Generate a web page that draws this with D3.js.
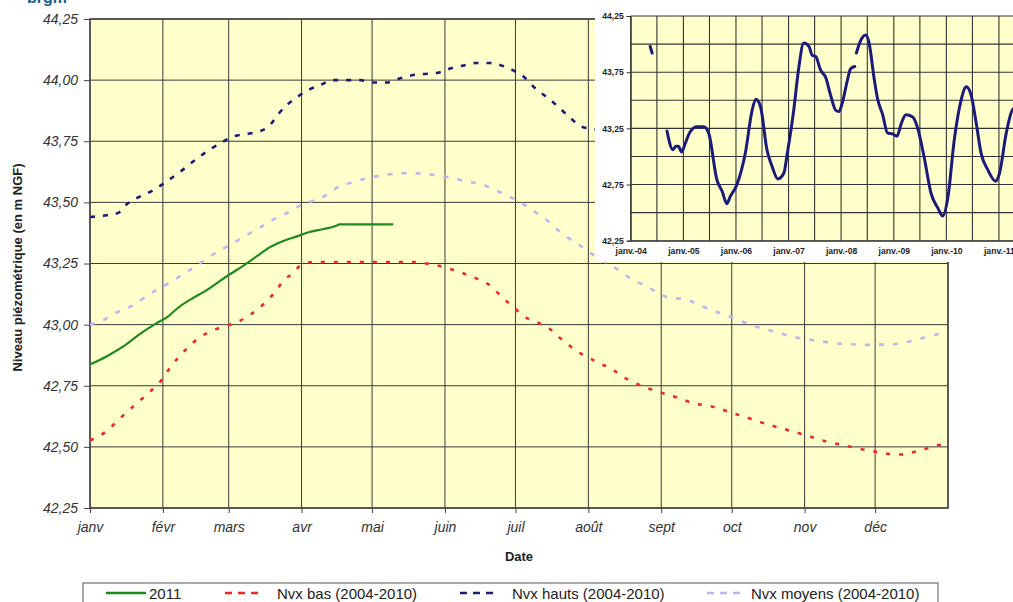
<!DOCTYPE html>
<html>
<head>
<meta charset="utf-8">
<script src="https://cdn.jsdelivr.net/npm/d3@7"></script>
<style>
  body { margin: 0; background: #fff; }
  text { font-family: Arial, "Liberation Sans", sans-serif; }
</style>
</head>
<body>
<svg id="chart" width="1013" height="602"></svg>
<script>
// Month labels of the main chart (one per month start)
const moisLabels = ["janv", "févr", "mars", "avr", "mai", "juin", "juil", "août", "sept", "oct", "nov", "déc"];
const yTicks = [42.25, 42.5, 42.75, 43.0, 43.25, 43.5, 43.75, 44.0, 44.25];

// Series, [month-day in 2011, level in m NGF]
const niveaux2011 = [
  ["01-01", 42.837], ["01-08", 42.87], ["01-15", 42.91], ["01-22", 42.96], ["01-29", 43.004],
  ["02-03", 43.032], ["02-08", 43.073], ["02-14", 43.11], ["02-20", 43.143], ["02-25", 43.177],
  ["03-02", 43.209], ["03-07", 43.239], ["03-13", 43.28], ["03-18", 43.314], ["03-24", 43.341],
  ["03-30", 43.361], ["04-04", 43.378], ["04-10", 43.39], ["04-16", 43.405], ["04-17", 43.41],
  ["05-10", 43.41]
];

const nvxBas = [
  ["01-01", 42.527], ["01-08", 42.564], ["01-12", 42.60], ["01-17", 42.645], ["01-22", 42.687],
  ["01-27", 42.73], ["02-01", 42.78], ["02-04", 42.823], ["02-08", 42.87], ["02-12", 42.91],
  ["02-17", 42.95], ["02-22", 42.975], ["02-27", 42.993], ["03-04", 43.007], ["03-09", 43.034],
  ["03-13", 43.06], ["03-17", 43.095], ["03-21", 43.136], ["03-24", 43.177], ["03-28", 43.208],
  ["04-01", 43.245], ["04-06", 43.256], ["04-12", 43.256], ["05-19", 43.256], ["05-24", 43.25],
  ["05-30", 43.239], ["06-04", 43.225], ["06-09", 43.209], ["06-14", 43.19], ["06-19", 43.168],
  ["06-23", 43.134], ["06-27", 43.098], ["07-01", 43.064], ["07-05", 43.032], ["07-10", 43.01],
  ["07-15", 42.987], ["07-19", 42.953], ["07-23", 42.922], ["07-27", 42.891], ["08-01", 42.866],
  ["08-06", 42.84], ["08-11", 42.82], ["08-15", 42.79], ["08-20", 42.766], ["08-25", 42.744],
  ["08-30", 42.728], ["09-04", 42.713], ["09-09", 42.698], ["09-14", 42.68], ["09-20", 42.67],
  ["09-25", 42.66], ["09-30", 42.642], ["10-06", 42.625], ["10-12", 42.605], ["10-18", 42.587],
  ["10-24", 42.571], ["10-30", 42.555], ["11-05", 42.537], ["11-11", 42.52], ["11-18", 42.506],
  ["11-24", 42.493], ["11-30", 42.482], ["12-06", 42.472], ["12-12", 42.469], ["12-18", 42.48],
  ["12-24", 42.496], ["12-31", 42.516]
];

const nvxHauts = [
  ["01-01", 43.44], ["01-08", 43.447], ["01-13", 43.457], ["01-17", 43.495], ["01-21", 43.518],
  ["01-27", 43.545], ["02-01", 43.575], ["02-09", 43.63], ["02-17", 43.69], ["02-26", 43.745],
  ["03-03", 43.77], ["03-09", 43.78], ["03-14", 43.79], ["03-18", 43.81], ["03-22", 43.86],
  ["03-26", 43.90], ["03-30", 43.93], ["04-04", 43.96], ["04-09", 43.98], ["04-14", 44.00],
  ["04-20", 44.00], ["04-26", 44.00], ["05-01", 43.99], ["05-07", 43.99], ["05-12", 44.005],
  ["05-18", 44.02], ["05-23", 44.025], ["05-29", 44.03], ["06-04", 44.05], ["06-09", 44.06],
  ["06-14", 44.07], ["06-20", 44.07], ["06-25", 44.06], ["06-30", 44.04], ["07-05", 44.01],
  ["07-09", 43.97], ["07-13", 43.94], ["07-17", 43.91], ["07-21", 43.875], ["07-25", 43.84],
  ["07-29", 43.81], ["08-03", 43.80], ["08-09", 43.79]
];

const nvxMoyens = [
  ["01-01", 43.00], ["01-07", 43.02], ["01-12", 43.048], ["01-19", 43.078], ["01-25", 43.116],
  ["01-30", 43.146], ["02-05", 43.177], ["02-10", 43.21], ["02-15", 43.238], ["02-20", 43.273],
  ["02-26", 43.307], ["03-03", 43.334], ["03-09", 43.368], ["03-14", 43.395], ["03-20", 43.43],
  ["03-26", 43.457], ["04-01", 43.49], ["04-07", 43.51], ["04-13", 43.538], ["04-17", 43.566],
  ["04-23", 43.582], ["04-29", 43.60], ["05-05", 43.61], ["05-11", 43.617], ["05-17", 43.62],
  ["05-23", 43.617], ["05-29", 43.61], ["06-04", 43.60], ["06-10", 43.586], ["06-17", 43.573],
  ["06-22", 43.552], ["06-28", 43.525], ["07-04", 43.495], ["07-09", 43.463], ["07-14", 43.43],
  ["07-18", 43.395], ["07-23", 43.358], ["07-29", 43.32], ["08-03", 43.286], ["08-09", 43.252],
  ["08-14", 43.222], ["08-19", 43.188], ["08-25", 43.16], ["08-30", 43.134], ["09-05", 43.109],
  ["09-10", 43.106], ["09-16", 43.086], ["09-22", 43.06], ["09-28", 43.04], ["10-04", 43.018],
  ["10-10", 42.996], ["10-16", 42.98], ["10-22", 42.963], ["10-28", 42.948], ["11-03", 42.939],
  ["11-09", 42.93], ["11-15", 42.923], ["11-21", 42.92], ["11-27", 42.917], ["12-03", 42.918],
  ["12-09", 42.92], ["12-15", 42.93], ["12-21", 42.944], ["12-28", 42.962]
];

// Inset: full record 2004-2011 (null = gap in measurements)
const chroniqueDates = [
  "2004-05-15", "2004-05-29", "2004-07-01", "2004-09-09", "2004-10-20", "2004-11-10", "2004-11-27",
  "2004-12-20", "2005-01-15", "2005-02-17", "2005-04-05", "2005-05-22", "2005-06-25", "2005-08-22",
  "2005-09-27", "2005-10-30", "2005-11-21", "2006-01-08", "2006-03-07", "2006-04-23", "2006-05-19",
  "2006-06-21", "2006-08-04", "2006-09-09", "2006-10-19", "2006-11-29", "2006-12-24", "2007-02-06",
  "2007-03-11", "2007-04-17", "2007-05-23", "2007-06-14", "2007-07-09", "2007-08-11", "2007-09-17",
  "2007-10-19", "2007-11-25", "2007-12-17", "2008-01-08", "2008-02-14", "2008-03-07", "2008-04-05",
  "2008-04-10", "2008-04-16", "2008-05-12", "2008-06-21", "2008-07-13", "2008-08-19", "2008-09-09",
  "2008-10-16", "2008-11-18", "2008-12-24", "2009-01-23", "2009-02-21", "2009-03-26", "2009-05-12",
  "2009-06-14", "2009-07-31", "2009-09-17", "2009-11-03", "2009-12-06", "2010-01-12", "2010-02-25",
  "2010-04-13", "2010-05-19", "2010-06-21", "2010-07-28", "2010-08-30", "2010-10-16", "2010-12-09",
  "2011-01-05", "2011-02-21", "2011-04-16", "2011-05-10"
];
const chroniqueNiveaux = [
  43.98, 43.92, null, 43.226, 43.06, 43.09, 43.09,
  43.04, 43.12, 43.22, 43.265, 43.265, 43.21, 42.79,
  42.69, 42.58, 42.64, 42.75, 43.03, 43.41, 43.51,
  43.44, 43.06, 42.91, 42.80, 42.85, 43.03, 43.41,
  43.77, 44.01, 43.98, 43.90, 43.89, 43.77, 43.70,
  43.55, 43.41, 43.40, 43.47, 43.68, 43.78, 43.80,
  null, 43.92, 44.02, 44.08, 44.01, 43.68, 43.52,
  43.37, 43.21, 43.20, 43.18, 43.29, 43.37, 43.35,
  43.26, 42.99, 42.67, 42.54, 42.47, 42.64, 43.15,
  43.50, 43.62, 43.55, 43.29, 43.03, 42.88, 42.78,
  42.85, 43.21, 43.43, 43.41
];
const insetYTicks = [42.25, 42.75, 43.25, 43.75, 44.25];
const insetGridY = [42.25, 42.5, 42.75, 43.0, 43.25, 43.5, 43.75, 44.0, 44.25];

const svg = d3.select("#chart");
const parseDay = d3.timeParse("%Y-%m-%d");
const toDate = md => parseDay("2011-" + md);
const frNum = d => d.toFixed(2).replace(".", ",");

const plot = { left: 90, right: 948, top: 19, bottom: 508 };

const x = d3.scaleTime()
  .domain([new Date(2011, 0, 1), new Date(2012, 0, 1)])
  .range([plot.left, plot.right]);
const y = d3.scaleLinear()
  .domain([42.25, 44.25])
  .range([plot.bottom, plot.top]);

// logo fragment at the top (cut off in the original)
svg.append("text")
  .attr("x", 27).attr("y", 3)
  .attr("font-size", 16).attr("font-weight", "bold")
  .attr("fill", "#1f5c86")
  .text("brgm");

// plot background
svg.append("rect")
  .attr("x", plot.left).attr("y", plot.top)
  .attr("width", plot.right - plot.left).attr("height", plot.bottom - plot.top)
  .attr("fill", "#ffffcc");

// grid
const grid = svg.append("g").attr("stroke", "#3a3a3a").attr("stroke-width", 1);
grid.selectAll(".gy").data(yTicks).join("line")
  .attr("x1", plot.left).attr("x2", plot.right)
  .attr("y1", d => y(d)).attr("y2", d => y(d));
const monthStarts = d3.timeMonth.range(new Date(2011, 0, 1), new Date(2012, 0, 2));
grid.selectAll(".gx").data(monthStarts).join("line")
  .attr("y1", plot.top).attr("y2", plot.bottom)
  .attr("x1", d => x(d)).attr("x2", d => x(d));

svg.append("rect")
  .attr("x", plot.left).attr("y", plot.top)
  .attr("width", plot.right - plot.left).attr("height", plot.bottom - plot.top)
  .attr("fill", "none").attr("stroke", "#444").attr("stroke-width", 1.5);

// axes
const yAxis = svg.append("g")
  .attr("transform", `translate(${plot.left},0)`)
  .call(d3.axisLeft(y).tickValues(yTicks).tickFormat(frNum).tickSize(6).tickPadding(6));
const xAxis = svg.append("g")
  .attr("transform", `translate(0,${plot.bottom})`)
  .call(d3.axisBottom(x).tickValues(monthStarts.slice(0, 12)).tickSize(5).tickPadding(9)
    .tickFormat((d, i) => moisLabels[i]));
[yAxis, xAxis].forEach(ax => {
  ax.select(".domain").remove();
  ax.selectAll(".tick line").attr("stroke", "#444");
  ax.selectAll("text").attr("font-size", 14).attr("font-style", "italic").attr("fill", "#333")
    .attr("font-family", "Arial, 'Liberation Sans', sans-serif");
});

svg.append("text")
  .attr("x", (plot.left + plot.right) / 2).attr("y", 561)
  .attr("text-anchor", "middle").attr("font-size", 13).attr("font-weight", "bold").attr("fill", "#222")
  .text("Date");
svg.append("text")
  .attr("transform", `translate(22,${(plot.top + plot.bottom) / 2 + 4}) rotate(-90)`)
  .attr("text-anchor", "middle").attr("font-size", 13).attr("font-weight", "bold").attr("fill", "#222")
  .text("Niveau piézométrique (en m NGF)");

// series
const line = d3.line()
  .x(d => x(toDate(d[0])))
  .y(d => y(d[1]))
  .curve(d3.curveMonotoneX);

const series = [
  { data: nvxMoyens, color: "#c5b3f0", dash: "5,9", width: 2.6, label: "Nvx moyens (2004-2010)" },
  { data: nvxBas, color: "#f02828", dash: "4,9", width: 2.6, label: "Nvx bas (2004-2010)" },
  { data: nvxHauts, color: "#1c1c78", dash: "5,8", width: 2.6, label: "Nvx hauts (2004-2010)" },
  { data: niveaux2011, color: "#1e8a1e", dash: null, width: 2.2, label: "2011" }
];
series.forEach(s => {
  svg.append("path")
    .datum(s.data)
    .attr("fill", "none")
    .attr("stroke", s.color)
    .attr("stroke-width", s.width)
    .attr("stroke-dasharray", s.dash)
    .attr("d", line);
});

// ---------- inset chart (full record) ----------
svg.append("rect")
  .attr("x", 595).attr("y", 0).attr("width", 418).attr("height", 262)
  .attr("fill", "#fff");

const inset = { left: 630.7, top: 16, bottom: 240.7 };
const xi = d3.scaleTime()
  .domain([new Date(2004, 0, 1), new Date(2011, 6, 1)])
  .range([inset.left, 1025]);
const yi = d3.scaleLinear()
  .domain([42.25, 44.25])
  .range([inset.bottom, inset.top]);

svg.append("rect")
  .attr("x", inset.left).attr("y", inset.top)
  .attr("width", 1025 - inset.left).attr("height", inset.bottom - inset.top)
  .attr("fill", "#ffffcc");

const igrid = svg.append("g").attr("stroke", "#333").attr("stroke-width", 1.1);
igrid.selectAll(".iy").data(insetGridY).join("line")
  .attr("x1", inset.left).attr("x2", 1025)
  .attr("y1", d => yi(d)).attr("y2", d => yi(d));
const halfYears = d3.timeMonth.every(6).range(new Date(2004, 0, 1), new Date(2011, 6, 2));
igrid.selectAll(".ix").data(halfYears).join("line")
  .attr("y1", inset.top).attr("y2", inset.bottom)
  .attr("x1", d => xi(d)).attr("x2", d => xi(d));

const yiAxis = svg.append("g")
  .attr("transform", `translate(${inset.left},0)`)
  .call(d3.axisLeft(yi).tickValues(insetYTicks).tickFormat(frNum).tickSize(4).tickPadding(3));
const years = d3.timeYear.range(new Date(2004, 0, 1), new Date(2011, 0, 2));
const xiAxis = svg.append("g")
  .attr("transform", `translate(0,${inset.bottom})`)
  .call(d3.axisBottom(xi).tickValues(years).tickSize(0).tickPadding(7)
    .tickFormat(d => "janv.-" + d3.timeFormat("%y")(d)));
[yiAxis, xiAxis].forEach(ax => {
  ax.select(".domain").attr("stroke", "#333");
  ax.selectAll(".tick line").attr("stroke", "#333");
  ax.selectAll("text").attr("font-size", 8.6).attr("font-weight", "bold").attr("fill", "#222")
    .attr("font-family", "Arial, 'Liberation Sans', sans-serif");
});

const chronique = chroniqueDates.map((d, i) => ({ date: parseDay(d), v: chroniqueNiveaux[i] }));
svg.append("path")
  .datum(chronique)
  .attr("fill", "none")
  .attr("stroke", "#1a1a7a")
  .attr("stroke-width", 3)
  .attr("stroke-linejoin", "round")
  .attr("stroke-linecap", "round")
  .attr("d", d3.line()
    .defined(d => d.v !== null)
    .x(d => xi(d.date))
    .y(d => yi(d.v))
    .curve(d3.curveMonotoneX));

// ---------- legend ----------
const legend = svg.append("g");
legend.append("rect")
  .attr("x", 83).attr("y", 583).attr("width", 855).attr("height", 40)
  .attr("fill", "#fff").attr("stroke", "#555").attr("stroke-width", 1);

const legendOrder = [series[3], series[1], series[2], series[0]];
const legendX = [106, 225, 460, 707];
const legendTextX = [149, 277, 512, 751];
legendOrder.forEach((s, i) => {
  const len = s.dash ? 34 : 40;
  legend.append("line")
    .attr("x1", legendX[i]).attr("x2", legendX[i] + len).attr("y1", 593).attr("y2", 593)
    .attr("stroke", s.color).attr("stroke-width", s.dash ? 2.6 : 2.4)
    .attr("stroke-dasharray", s.dash ? "7,6" : null);
  legend.append("text")
    .attr("x", legendTextX[i]).attr("y", 599)
    .attr("font-size", 15).attr("fill", "#222")
    .text(s.label);
});
</script>
</body>
</html>
